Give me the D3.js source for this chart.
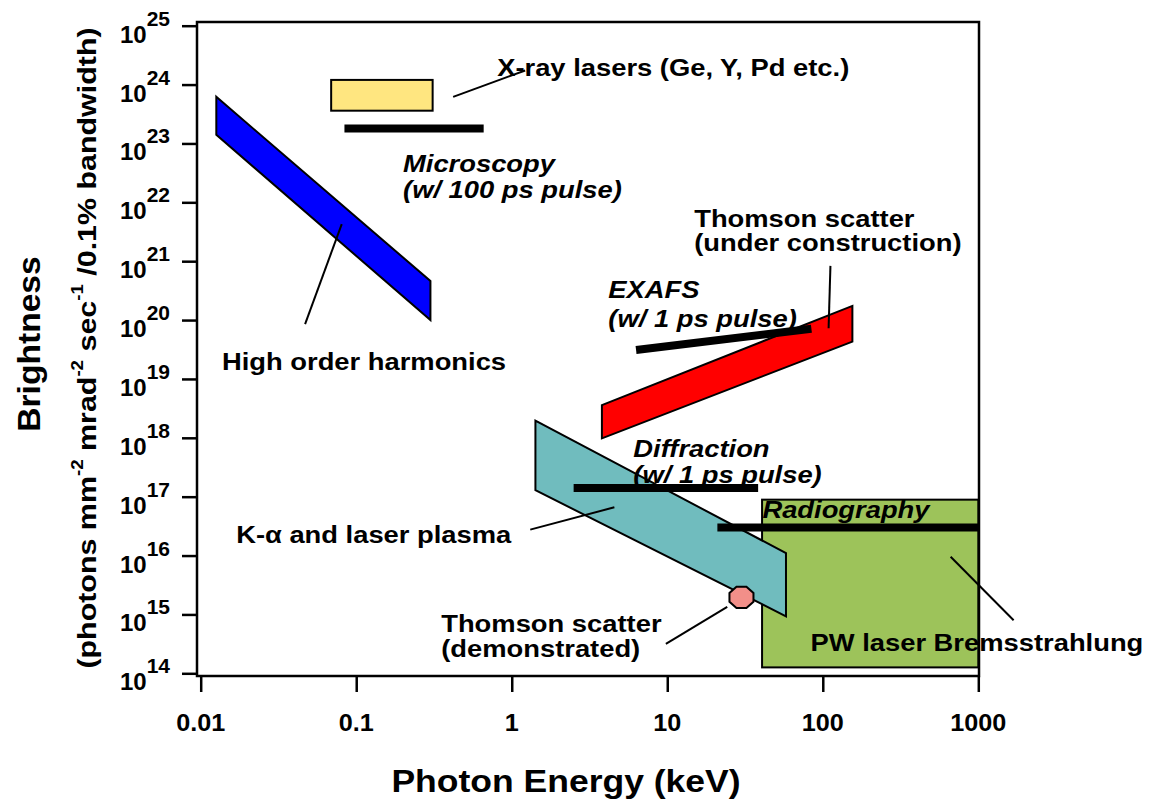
<!DOCTYPE html>
<html>
<head>
<meta charset="utf-8">
<title>Brightness vs Photon Energy</title>
<script src="https://cdn.jsdelivr.net/npm/d3@7"></script>
<style>
  body { margin: 0; background: #fff; }
  svg text { font-family: "Liberation Sans", Arial, sans-serif; font-weight: bold; fill: #000; }
</style>
</head>
<body>
<div id="chart"></div>
<script>
// ---- Data (photon energy in keV, brightness in photons/mm^2/mrad^2/s/0.1%BW) ----

// Source regions, polygon vertices [keV, brightness]
const harmonicsBand = [[0.0126, 6.2e23], [0.30, 4.6e20], [0.30, 1.0e20], [0.0126, 1.4e23]];
const thomsonFutureBand = [[3.8, 3.6e18], [155, 1.74e20], [155, 4.3e19], [3.8, 9.8e17]];
const kAlphaBand = [[1.42, 1.95e18], [58, 1.1e16], [58, 9.3e14], [1.42, 1.29e17]];

// Rectangular regions, [[keV0, top], [keV1, bottom]]
const xrayLaserBox = [[0.069, 1.2e24], [0.31, 3.6e23]];
const bremsBox = [[40.7, 8.9e16], [1000, 1.26e14]];

// Thomson scatter demonstrated point [keV, brightness]
const thomsonDemoPoint = [30, 1.95e15];

// Application requirement bars
const barNames = ['Microscopy', 'EXAFS', 'Diffraction', 'Radiography'];
const barStartKeV = [0.084, 6.3, 2.5, 21];
const barEndKeV = [0.66, 84.5, 38.4, 1000];
const barStartBrightness = [1.8e23, 3.1e19, 1.4e17, 3.0e16];
const barEndBrightness = [1.8e23, 7.1e19, 1.4e17, 3.0e16];

// Axis ticks
const xMajorTicks = [0.01, 0.1, 1, 10, 100, 1000];
const xTickLabels = ['0.01', '0.1', '1', '10', '100', '1000'];
const yExponents = [14, 15, 16, 17, 18, 19, 20, 21, 22, 23, 24, 25];

// Annotation text, position as [keV, log10 brightness] of the baseline start
const labels = [
  { text: 'X-ray lasers (Ge, Y, Pd etc.)', at: [0.806, 24.14] },
  { text: 'Microscopy', at: [0.200, 22.51], italic: true },
  { text: '(w/ 100 ps pulse)', at: [0.200, 22.07], italic: true },
  { text: 'Thomson scatter', at: [14.9, 21.58] },
  { text: '(under construction)', at: [14.9, 21.17] },
  { text: 'EXAFS', at: [4.18, 20.37], italic: true },
  { text: '(w/ 1 ps pulse)', at: [4.18, 19.88], italic: true },
  { text: 'High order harmonics', at: [0.0137, 19.15] },
  { text: 'Diffraction', at: [6.05, 17.67], italic: true },
  { text: '(w/ 1 ps pulse)', at: [6.05, 17.23], italic: true },
  { text: 'Radiography', at: [40.9, 16.64], italic: true },
  { text: 'K-\u03b1 and laser plasma', at: [0.0169, 16.21] },
  { text: 'Thomson scatter', at: [0.352, 14.70] },
  { text: '(demonstrated)', at: [0.352, 14.28] },
  { text: 'PW laser Bremsstrahlung', at: [83.4, 14.38] }
];

// Leader lines, [keV, log10 brightness] pairs
const leaders = [
  [[0.42, 23.79], [1.22, 24.24]],
  [[0.0469, 19.93], [0.0807, 21.63]],
  [[112, 20.92], [109, 19.86]],
  [[1.315, 16.44], [4.57, 16.82]],
  [[9.8, 14.50], [24.3, 15.13]],
  [[664, 15.98], [1687, 14.90]]
];

// ---- Drawing ----
const width = 1149;
const height = 799;
const TEXT_STRETCH = 1.14;

const svg = d3.select('#chart')
  .append('svg')
  .attr('width', width)
  .attr('height', height);

const x = d3.scaleLog().domain([0.01, 1000]).range([200.7, 978.3]);
const y = d3.scaleLog().domain([1e14, 1e25]).range([673.3, 25.7]);
const pt = d => [x(d[0]), y(d[1])];
const ptExp = d => [x(d[0]), y(Math.pow(10, d[1]))];

// Plot frame
svg.append('rect')
  .attr('x', 197).attr('y', 22)
  .attr('width', 782).attr('height', 654)
  .attr('fill', 'none')
  .attr('stroke', '#000')
  .attr('stroke-width', 2.5);

const polyLine = d3.line();

// Regions
function drawPolygon(points, fill) {
  svg.append('path')
    .attr('d', polyLine(points.map(pt)) + 'Z')
    .attr('fill', fill)
    .attr('stroke', '#000')
    .attr('stroke-width', 2)
    .attr('stroke-linejoin', 'miter');
}

function drawBox(box, fill) {
  const [p0, p1] = box;
  svg.append('rect')
    .attr('x', x(p0[0]))
    .attr('y', y(p0[1]))
    .attr('width', x(p1[0]) - x(p0[0]))
    .attr('height', y(p1[1]) - y(p0[1]))
    .attr('fill', fill)
    .attr('stroke', '#000')
    .attr('stroke-width', 2);
}

drawBox(bremsBox, '#9dc35a');
drawBox(xrayLaserBox, '#ffe680');
drawPolygon(harmonicsBand, '#0000ff');
drawPolygon(thomsonFutureBand, '#ff0000');
drawPolygon(kAlphaBand, '#70bcbe');

// Thomson demonstrated point (small octagon)
const [cx, cy] = pt(thomsonDemoPoint);
const octagon = d3.range(8).map(i => {
  const a = Math.PI / 8 + i * Math.PI / 4;
  return [cx + 13 * Math.cos(a), cy + 11.5 * Math.sin(a)];
});
svg.append('path')
  .attr('d', polyLine(octagon) + 'Z')
  .attr('fill', '#f28f89')
  .attr('stroke', '#000')
  .attr('stroke-width', 2);

// Requirement bars
svg.selectAll('line.req')
  .data(barNames)
  .enter()
  .append('line')
  .attr('class', 'req')
  .attr('x1', (d, i) => x(barStartKeV[i]))
  .attr('x2', (d, i) => x(barEndKeV[i]))
  .attr('y1', (d, i) => y(barStartBrightness[i]))
  .attr('y2', (d, i) => y(barEndBrightness[i]))
  .attr('stroke', '#000')
  .attr('stroke-width', 8);

// Leader lines
svg.selectAll('line.leader')
  .data(leaders)
  .enter()
  .append('line')
  .attr('class', 'leader')
  .attr('x1', d => ptExp(d[0])[0])
  .attr('y1', d => ptExp(d[0])[1])
  .attr('x2', d => ptExp(d[1])[0])
  .attr('y2', d => ptExp(d[1])[1])
  .attr('stroke', '#000')
  .attr('stroke-width', 2);

// Annotation labels
svg.selectAll('text.label')
  .data(labels)
  .enter()
  .append('text')
  .attr('class', 'label')
  .attr('transform', d => {
    const [lx, ly] = ptExp(d.at);
    return `translate(${lx},${ly}) scale(${TEXT_STRETCH},1)`;
  })
  .style('font-size', '24px')
  .style('font-style', d => d.italic ? 'italic' : 'normal')
  .text(d => d.text);

// X axis: minor and major ticks
const xMinorTicks = [];
xMajorTicks.slice(0, -1).forEach(t => {
  for (let k = 2; k <= 9; k++) xMinorTicks.push(t * k);
});

const xAxisG = svg.append('g').attr('transform', 'translate(0,676)');
xAxisG.call(d3.axisBottom(x).tickValues(xMinorTicks).tickSize(8).tickFormat(''));
xAxisG.call(d3.axisBottom(x).tickValues(xMajorTicks).tickSize(16).tickFormat(''));
xAxisG.selectAll('.domain').remove();
xAxisG.selectAll('.tick line').attr('stroke', '#000').attr('stroke-width', 2.5);

xAxisG.selectAll('text.xlab')
  .data(xMajorTicks)
  .enter()
  .append('text')
  .attr('class', 'xlab')
  .attr('text-anchor', 'middle')
  .attr('transform', d => `translate(${x(d)},55) scale(1.05,1)`)
  .style('font-size', '24px')
  .text((d, i) => xTickLabels[i]);

// Y axis: decade ticks with 10^n labels
const yAxisG = svg.append('g').attr('transform', 'translate(197,0)');
yAxisG.call(d3.axisLeft(y).tickValues(yExponents.map(e => Math.pow(10, e))).tickSize(15).tickFormat(''));
yAxisG.selectAll('.domain').remove();
yAxisG.selectAll('.tick line').attr('stroke', '#000').attr('stroke-width', 2.5);

const yLab = yAxisG.selectAll('text.ylab')
  .data(yExponents)
  .enter()
  .append('text')
  .attr('class', 'ylab')
  .attr('text-anchor', 'end')
  .attr('x', -27)
  .attr('y', e => y(Math.pow(10, e)) + 17)
  .style('font-size', '24px');
yLab.append('tspan').text('10');
yLab.append('tspan')
  .attr('dy', -17)
  .style('font-size', '21px')
  .text(e => e);

// Axis titles
svg.append('text')
  .attr('text-anchor', 'middle')
  .attr('transform', 'translate(566,792) scale(1.11,1)')
  .style('font-size', '32px')
  .text('Photon Energy (keV)');

svg.append('text')
  .attr('text-anchor', 'middle')
  .attr('transform', 'translate(40,344) rotate(-90) scale(1.05,1)')
  .style('font-size', '32px')
  .text('Brightness');

const sub = svg.append('text')
  .attr('text-anchor', 'middle')
  .attr('transform', 'translate(96,348) rotate(-90) scale(1.17,1)')
  .style('font-size', '26px');
const subParts = [
  ['(photons mm', 0], ['-2', 1], [' mrad', 0], ['-2', 1], [' sec', 0], ['-1', 1], [' /0.1% bandwidth)', 0]
];
subParts.forEach(([t, sup], i) => {
  const prevSup = i > 0 ? subParts[i - 1][1] : 0;
  sub.append('tspan')
    .attr('dy', sup ? -13 : (prevSup ? 13 : 0))
    .style('font-size', sup ? '16px' : '26px')
    .text(t);
});
</script>
</body>
</html>
